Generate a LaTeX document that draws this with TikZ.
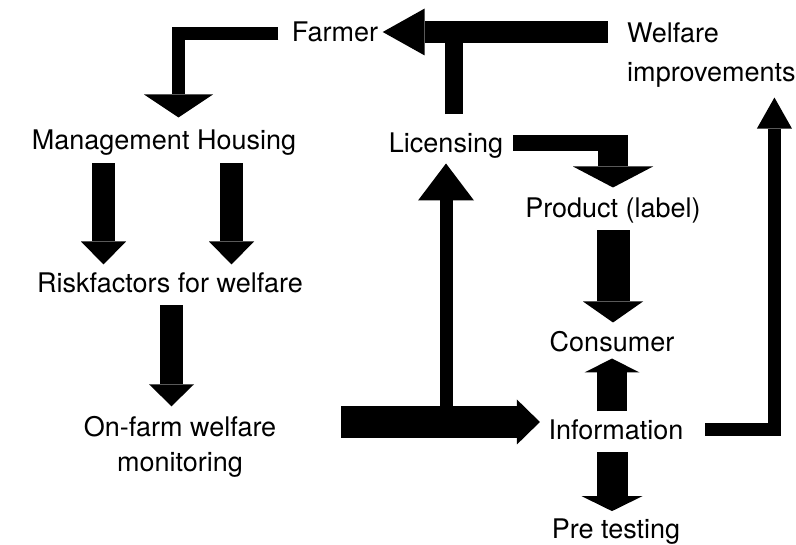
\documentclass[tikz,border=0pt]{standalone}
\usepackage{fontspec}
\setmainfont{TeX Gyre Heros}
\usepackage{tikz}
\usetikzlibrary{arrows.meta}

\tikzset{
  blk/.style n args={3}{line width=#1, -{Triangle[length=#2, width=#3, line width=0pt]}},
}

\begin{document}
\begin{tikzpicture}[x=1pt,y=-1pt]
            \tikzstyle{every node}=[inner sep=0pt, font=\fontsize{27}{35}\selectfont]
            \tikzstyle{lbl}=[text height=19.4pt, text depth=0pt]
            \tikzstyle{bar}=[line width=#1]

            \useasboundingbox (0,0) rectangle (796,545);

            \node[lbl] (farmer) at (335,32) {Farmer};
            \node[anchor=west, align=left, font=\fontsize{27}{39}\selectfont] (welfare) at (627,55) {Welfare\\improvements};
            \node[lbl] (mgmt) at (164,140) {Management Housing};
            \node[lbl] (licensing) at (446,143) {Licensing};
            \node[lbl] (product) at (613,208) {Product (label)};
            \node[lbl] (risk) at (170,283) {Riskfactors for welfare};
            \node[lbl] (consumer) at (612,342) {Consumer};
            \node[align=center] (onfarm) at (180,447) {On-farm welfare\\monitoring};
            \node[lbl] (info) at (616,430) {Information};
            \node[lbl] (pretest) at (616,529) {Pre testing};

            \draw[blk={13pt}{23pt}{69pt}, shorten <=13.5pt] ([yshift=-2pt]farmer.west) -| ([xshift=14.5pt,yshift=12.6pt]mgmt.north);
            \draw[bar=18pt, shorten <=19pt] ([xshift=8pt]licensing.north) -- ([xshift=8pt]licensing.north |- farmer.east);
            \draw[bar=16pt, shorten <=10pt, shorten >=-14pt] (licensing.east) -- (licensing.east -| product.north);
            \draw[blk={13pt}{31pt}{35pt}, shorten <=21.5pt, shorten >=10pt] (info.east) -| ([xshift=63pt]welfare.south);

            \path
            (welfare.west |- farmer.east) edge [blk={22pt}{42pt}{47pt}, shorten <=19pt, shorten >=4.5pt] (farmer.east)
            (licensing.east -| product.north) edge [blk={30pt}{21pt}{80pt}, shorten <=-8pt, shorten >=10.6pt] (product.north)
            (product.south) edge [blk={33pt}{21pt}{60pt}, shorten <=12.6pt, shorten >=9.6pt] (product.south |- consumer.north)
            (consumer.south |- info.north) edge [blk={30pt}{14pt}{55pt}, shorten <=8.6pt, shorten >=6.6pt] (consumer.south)
            (consumer.south |- info.south) edge [blk={31pt}{15pt}{61pt}, shorten <=12.6pt, shorten >=8pt] (consumer.south |- pretest.north)

            ([yshift=8pt]info.west -| onfarm.east) edge [blk={32pt}{23pt}{45pt}, shorten <=65pt, shorten >=8.5pt] ([yshift=8pt]info.west)
            ([yshift=8pt]info.west -| licensing.south) edge [blk={13pt}{37pt}{56pt}, shorten >=10.6pt] (licensing.south)

            ([xshift=-60.5pt]mgmt.south) edge [blk={23pt}{23pt}{45pt}, shorten <=13.6pt, shorten >=8.6pt] ([xshift=-60.5pt]mgmt.south |- risk.north)
            ([xshift=67.5pt]mgmt.south) edge [blk={23pt}{23pt}{45pt}, shorten <=13.6pt, shorten >=8.6pt] ([xshift=67.5pt]mgmt.south |- risk.north)
            ([xshift=1.5pt]risk.south) edge [blk={23pt}{22pt}{45pt}, shorten <=12.6pt, shorten >=10pt] ([xshift=1.5pt]risk.south |- onfarm.north);

\end{tikzpicture}
\end{document}
